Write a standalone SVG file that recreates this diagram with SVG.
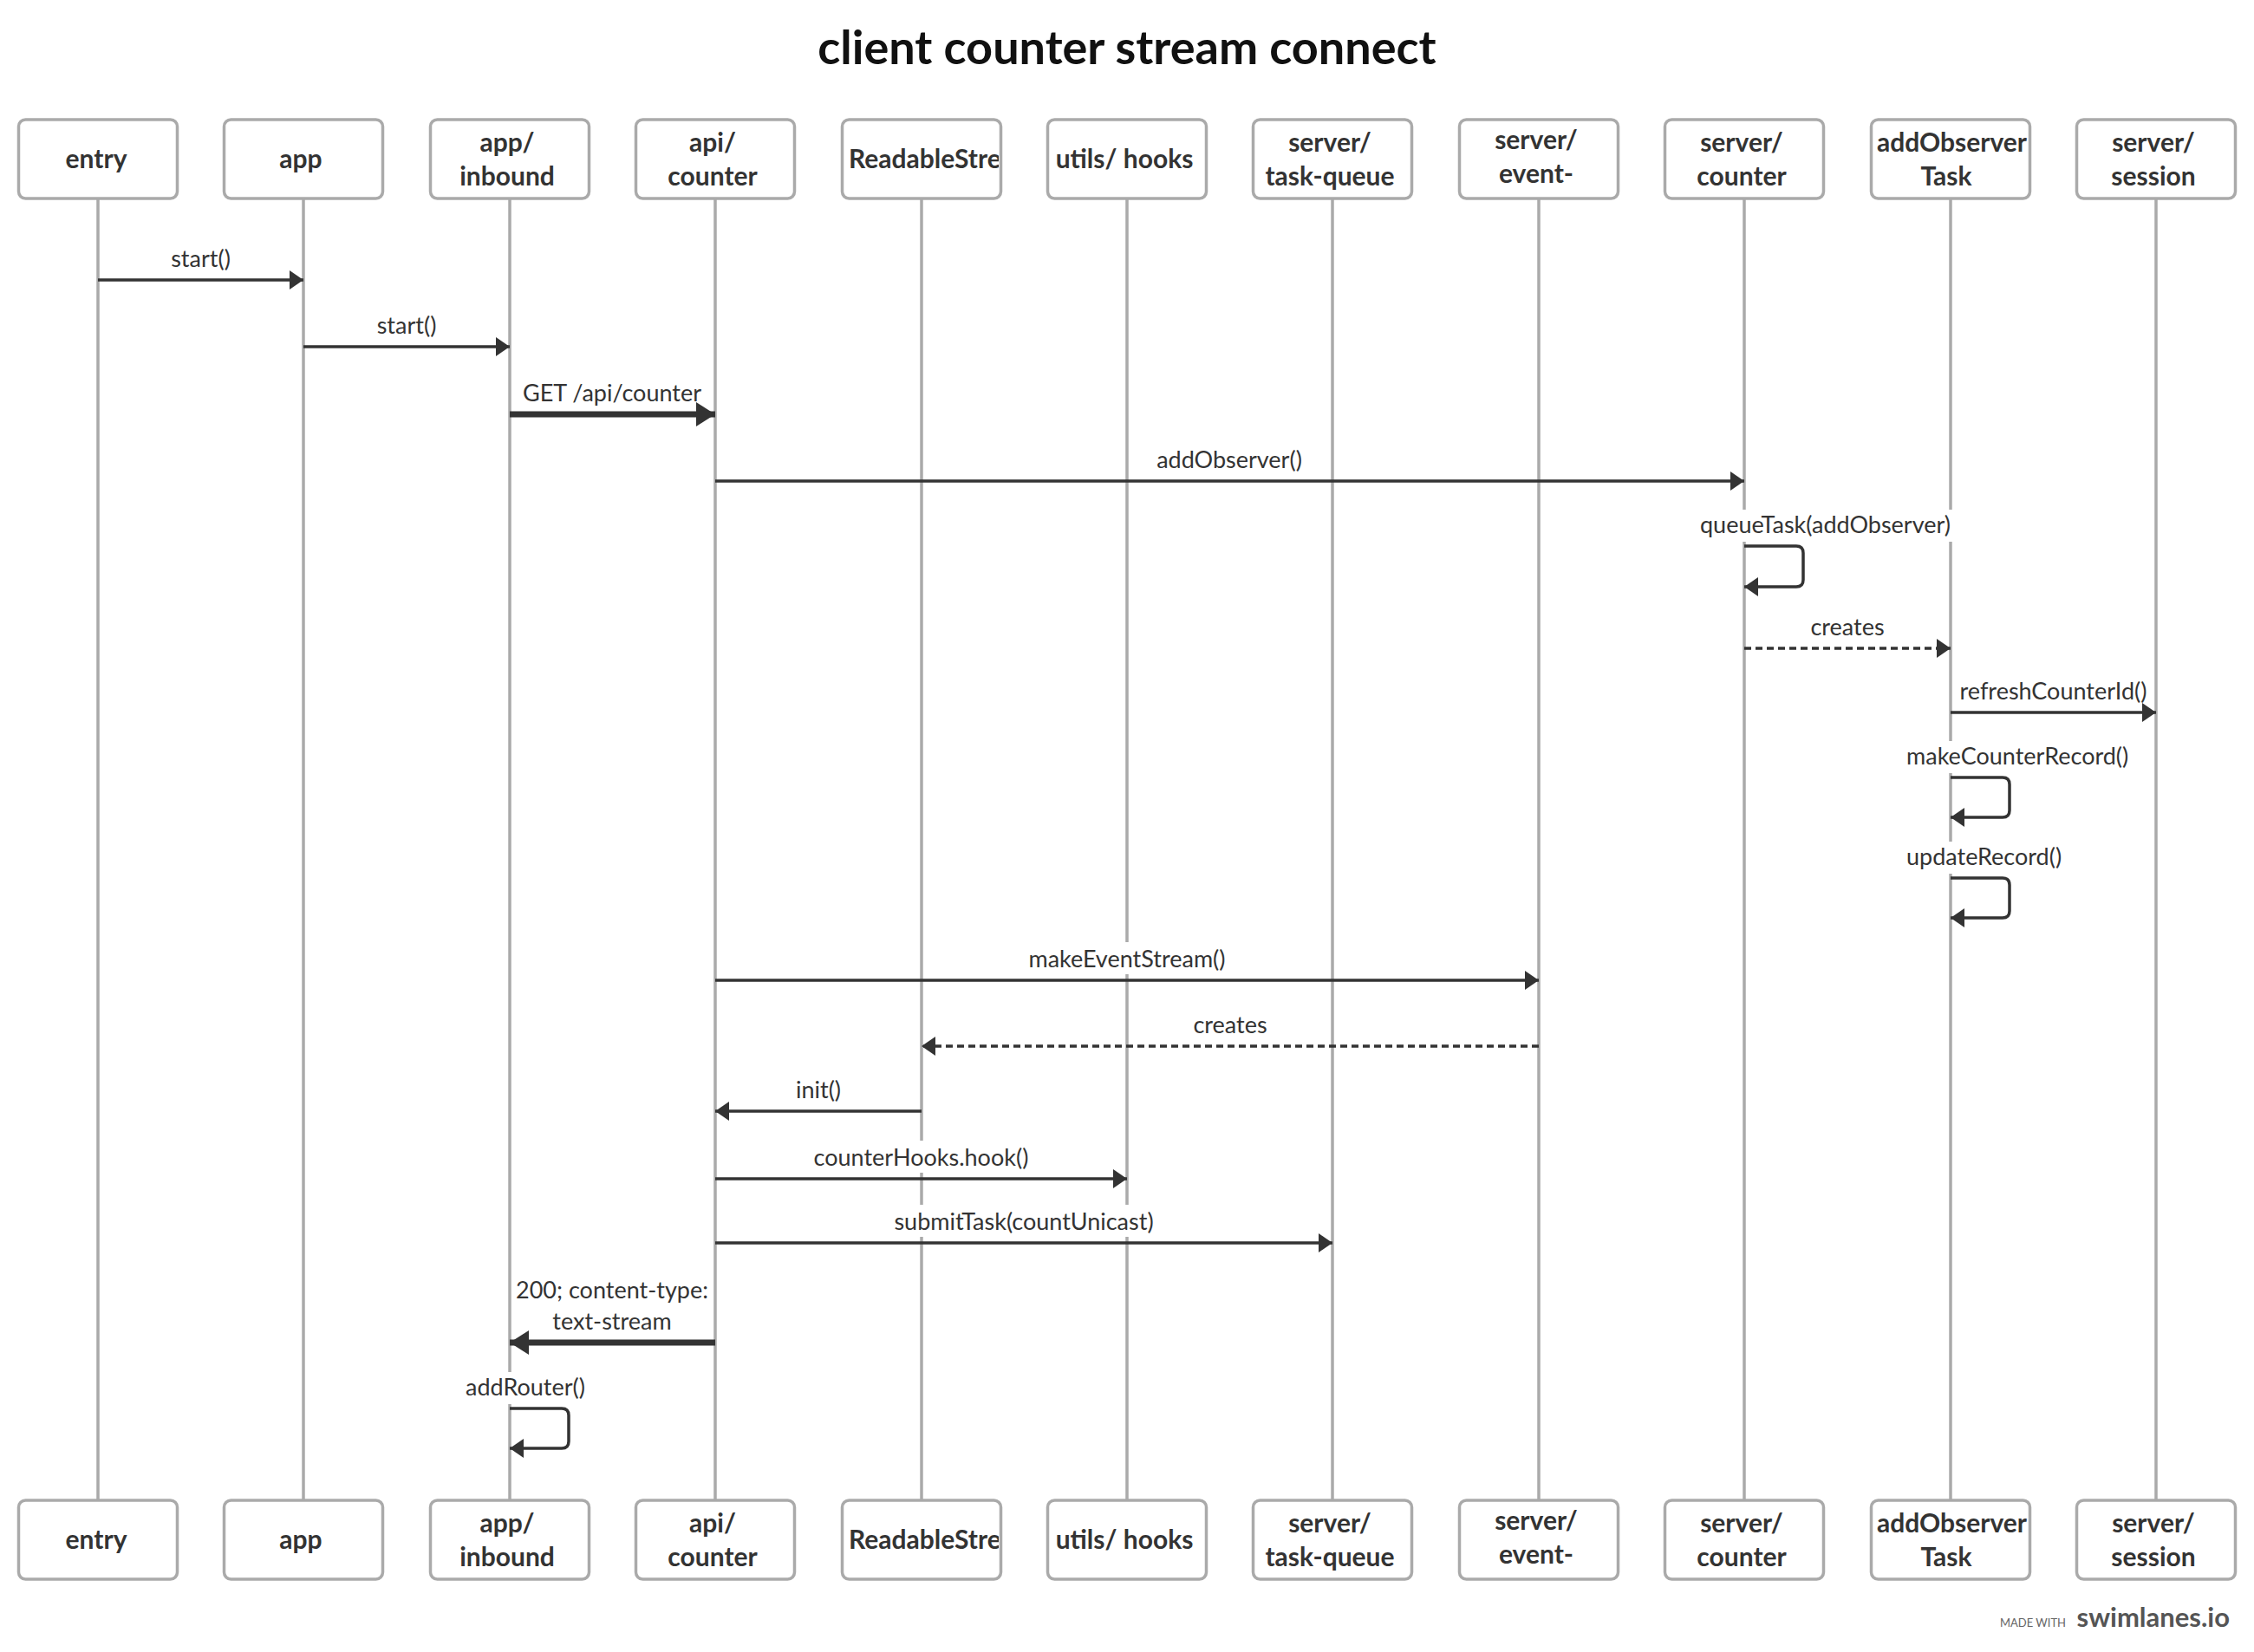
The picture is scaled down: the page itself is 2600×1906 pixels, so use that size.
<svg xmlns="http://www.w3.org/2000/svg" width="2600" height="1906" viewBox="0 0 2600 1906">
<style>
.box{fill:#fff;stroke:#aaa;stroke-width:3.5}
.life{stroke:#aaa;stroke-width:3.5}
.bt{font-family:Lato,"Noto Sans",sans-serif;font-weight:700;font-size:30px;fill:#333;text-anchor:middle}
.bts{font-family:Lato,"Noto Sans",sans-serif;font-weight:700;font-size:30px;fill:#333}
.ml{font-family:Lato,"Noto Sans",sans-serif;font-size:27px;fill:#333;text-anchor:middle}
.mls{font-family:Lato,"Noto Sans",sans-serif;font-size:27px;fill:#333}
.msg{stroke:#333;stroke-width:3.5;fill:none;marker-end:url(#ah)}
.thick{stroke-width:7;marker-end:url(#ahT)}
.dash{stroke-dasharray:8 5}
.bg{fill:#fff}
</style>
<defs>
<marker id="ah" markerUnits="userSpaceOnUse" markerWidth="16" markerHeight="22" refX="16" refY="11" orient="auto"><path d="M0,0 L16,11 L0,22 z" fill="#333"/></marker>
<marker id="ahT" markerUnits="userSpaceOnUse" markerWidth="22" markerHeight="28" refX="22" refY="14" orient="auto"><path d="M0,0 L22,14 L0,28 z" fill="#333"/></marker>
<clipPath id="clipRsTop"><rect x="973" y="138" width="179" height="91"/></clipPath>
<clipPath id="clipRsBot"><rect x="973" y="1731" width="179" height="91"/></clipPath>
<clipPath id="clipAoTop"><rect x="2160" y="138" width="179" height="91"/></clipPath>
<clipPath id="clipAoBot"><rect x="2160" y="1731" width="179" height="91"/></clipPath>
</defs>
<rect width="2600" height="1906" fill="#fff"/>
<text x="1300" y="74" style="font-family:Lato,'Noto Sans',sans-serif;font-weight:700;font-size:54px;fill:#111;text-anchor:middle">client counter stream connect</text>

<g id="node-entry">
<line class="life" x1="113" y1="229" x2="113" y2="1731"/>
<rect class="box" x="21.5" y="138" width="183" height="91" rx="8"/>
<text class="bt" x="111" y="194">entry</text>
<rect class="box" x="21.5" y="1731" width="183" height="91" rx="8"/>
<text class="bt" x="111" y="1787">entry</text>
</g>
<g id="node-app">
<line class="life" x1="350" y1="229" x2="350" y2="1731"/>
<rect class="box" x="258.5" y="138" width="183" height="91" rx="8"/>
<text class="bt" x="347" y="194">app</text>
<rect class="box" x="258.5" y="1731" width="183" height="91" rx="8"/>
<text class="bt" x="347" y="1787">app</text>
</g>
<g id="node-app-inbound">
<line class="life" x1="588" y1="229" x2="588" y2="1731"/>
<rect class="box" x="496.5" y="138" width="183" height="91" rx="8"/>
<text class="bt" x="585" y="175">app/</text>
<text class="bt" x="585" y="214">inbound</text>
<rect class="box" x="496.5" y="1731" width="183" height="91" rx="8"/>
<text class="bt" x="585" y="1768">app/</text>
<text class="bt" x="585" y="1807">inbound</text>
</g>
<g id="node-api-counter">
<line class="life" x1="825" y1="229" x2="825" y2="1731"/>
<rect class="box" x="733.5" y="138" width="183" height="91" rx="8"/>
<text class="bt" x="822" y="175">api/</text>
<text class="bt" x="822" y="214">counter</text>
<rect class="box" x="733.5" y="1731" width="183" height="91" rx="8"/>
<text class="bt" x="822" y="1768">api/</text>
<text class="bt" x="822" y="1807">counter</text>
</g>
<g id="node-readablestream">
<line class="life" x1="1063" y1="229" x2="1063" y2="1731"/>
<rect class="box" x="971.5" y="138" width="183" height="91" rx="8"/>
<text class="bts" x="979" y="194" clip-path="url(#clipRsTop)">ReadableStream</text>
<rect class="box" x="971.5" y="1731" width="183" height="91" rx="8"/>
<text class="bts" x="979" y="1787" clip-path="url(#clipRsBot)">ReadableStream</text>
</g>
<g id="node-utils-hooks">
<line class="life" x1="1300" y1="229" x2="1300" y2="1731"/>
<rect class="box" x="1208.5" y="138" width="183" height="91" rx="8"/>
<text class="bt" x="1297" y="194">utils/ hooks</text>
<rect class="box" x="1208.5" y="1731" width="183" height="91" rx="8"/>
<text class="bt" x="1297" y="1787">utils/ hooks</text>
</g>
<g id="node-task-queue">
<line class="life" x1="1537" y1="229" x2="1537" y2="1731"/>
<rect class="box" x="1445.5" y="138" width="183" height="91" rx="8"/>
<text class="bt" x="1534" y="175">server/</text>
<text class="bt" x="1534" y="214">task-queue</text>
<rect class="box" x="1445.5" y="1731" width="183" height="91" rx="8"/>
<text class="bt" x="1534" y="1768">server/</text>
<text class="bt" x="1534" y="1807">task-queue</text>
</g>
<g id="node-event-stream">
<line class="life" x1="1775" y1="229" x2="1775" y2="1731"/>
<rect class="box" x="1683.5" y="138" width="183" height="91" rx="8"/>
<text class="bt" x="1772" y="172">server/</text>
<text class="bt" x="1772" y="211">event-</text>
<rect class="box" x="1683.5" y="1731" width="183" height="91" rx="8"/>
<text class="bt" x="1772" y="1765">server/</text>
<text class="bt" x="1772" y="1804">event-</text>
</g>
<g id="node-server-counter">
<line class="life" x1="2012" y1="229" x2="2012" y2="1731"/>
<rect class="box" x="1920.5" y="138" width="183" height="91" rx="8"/>
<text class="bt" x="2009" y="175">server/</text>
<text class="bt" x="2009" y="214">counter</text>
<rect class="box" x="1920.5" y="1731" width="183" height="91" rx="8"/>
<text class="bt" x="2009" y="1768">server/</text>
<text class="bt" x="2009" y="1807">counter</text>
</g>
<g id="node-addobservertask">
<line class="life" x1="2250" y1="229" x2="2250" y2="1731"/>
<rect class="box" x="2158.5" y="138" width="183" height="91" rx="8"/>
<text class="bts" x="2165" y="175" clip-path="url(#clipAoTop)">addObserver</text>
<text class="bt" x="2245" y="214">Task</text>
<rect class="box" x="2158.5" y="1731" width="183" height="91" rx="8"/>
<text class="bts" x="2165" y="1768" clip-path="url(#clipAoBot)">addObserver</text>
<text class="bt" x="2245" y="1807">Task</text>
</g>
<g id="node-session">
<line class="life" x1="2487" y1="229" x2="2487" y2="1731"/>
<rect class="box" x="2395.5" y="138" width="183" height="91" rx="8"/>
<text class="bt" x="2484" y="175">server/</text>
<text class="bt" x="2484" y="214">session</text>
<rect class="box" x="2395.5" y="1731" width="183" height="91" rx="8"/>
<text class="bt" x="2484" y="1768">server/</text>
<text class="bt" x="2484" y="1807">session</text>
</g>

<g id="connectors">
<rect class="bg" x="189" y="279" width="84" height="37"/>
<text class="ml" x="231.5" y="308">start()</text>
<path class="msg" d="M113,323 H350"/>

<rect class="bg" x="427" y="356" width="84" height="37"/>
<text class="ml" x="469" y="385">start()</text>
<path class="msg" d="M350,400 H588"/>

<rect class="bg" x="599" y="434" width="214" height="37"/>
<text class="ml" x="706" y="463">GET /api/counter</text>
<path class="msg thick" d="M588,478 H825"/>

<rect class="bg" x="1326" y="511" width="184" height="37"/>
<text class="ml" x="1418" y="540">addObserver()</text>
<path class="msg" d="M825,555 H2012"/>

<rect class="bg" x="1956" y="588" width="312" height="37"/>
<text class="mls" x="1961" y="615">queueTask(addObserver)</text>
<path class="msg" d="M2012,630 H2072 Q2080,630 2080,638 V669 Q2080,677 2072,677 H2012"/>

<rect class="bg" x="2082" y="704" width="98" height="37"/>
<text class="ml" x="2131" y="733">creates</text>
<path class="msg dash" d="M2012,748 H2250"/>

<rect class="bg" x="2252" y="778" width="233" height="37"/>
<text class="ml" x="2368.5" y="807">refreshCounterId()</text>
<path class="msg" d="M2250,822 H2487"/>

<rect class="bg" x="2194" y="855" width="276" height="37"/>
<text class="mls" x="2199" y="882">makeCounterRecord()</text>
<path class="msg" d="M2250,897 H2310 Q2318,897 2318,905 V935 Q2318,943 2310,943 H2250"/>

<rect class="bg" x="2194" y="971" width="198" height="37"/>
<text class="mls" x="2199" y="998">updateRecord()</text>
<path class="msg" d="M2250,1013 H2310 Q2318,1013 2318,1021 V1051 Q2318,1059 2310,1059 H2250"/>

<rect class="bg" x="1175" y="1087" width="250" height="37"/>
<text class="ml" x="1300" y="1116">makeEventStream()</text>
<path class="msg" d="M825,1131 H1775"/>

<rect class="bg" x="1370" y="1163" width="98" height="37"/>
<text class="ml" x="1419" y="1192">creates</text>
<path class="msg dash" d="M1775,1207 H1063"/>

<rect class="bg" x="910" y="1238" width="68" height="37"/>
<text class="ml" x="944" y="1267">init()</text>
<path class="msg" d="M1063,1282 H825"/>

<rect class="bg" x="928" y="1316" width="269" height="37"/>
<text class="ml" x="1062.5" y="1345">counterHooks.hook()</text>
<path class="msg" d="M825,1360 H1300"/>

<rect class="bg" x="1016" y="1390" width="330" height="37"/>
<text class="ml" x="1181" y="1419">submitTask(countUnicast)</text>
<path class="msg" d="M825,1434 H1537"/>

<rect class="bg" x="590" y="1467" width="232" height="75"/>
<text class="ml" x="706" y="1498">200; content-type:</text>
<text class="ml" x="706" y="1534">text-stream</text>
<path class="msg thick" d="M825,1549 H588"/>

<rect class="bg" x="532" y="1583" width="154" height="37"/>
<text class="mls" x="537" y="1610">addRouter()</text>
<path class="msg" d="M588,1625 H648 Q656,1625 656,1633 V1663 Q656,1671 648,1671 H588"/>
</g>

<text x="2383" y="1877" style="font-family:Lato,'Noto Sans',sans-serif;font-size:13px;fill:#666;text-anchor:end">MADE WITH</text>
<text x="2572" y="1877" style="font-family:Lato,'Noto Sans',sans-serif;font-weight:700;font-size:31px;fill:#555;text-anchor:end">swimlanes.io</text>
</svg>
